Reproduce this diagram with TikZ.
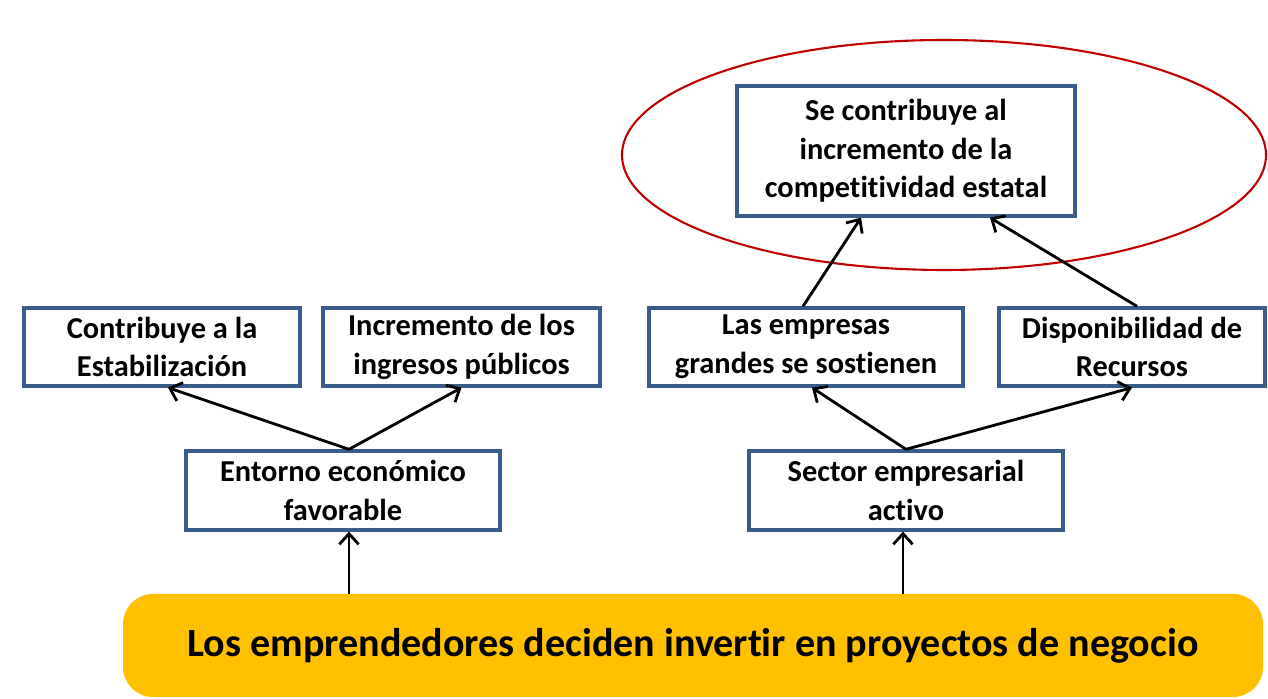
\documentclass[tikz,border=0pt]{standalone}
\usepackage{fontspec}
\setmainfont{Carlito}[Ligatures=NoCommon]
\usetikzlibrary{arrows.meta,positioning}
\definecolor{boxblue}{RGB}{56,93,138}
\definecolor{ovalred}{RGB}{192,0,0}
\definecolor{basegold}{RGB}{255,192,0}

\begin{document}
\begin{tikzpicture}[every node/.style={font=\bfseries\fontsize{17.3}{22}\selectfont,align=center,inner sep=0pt},
  box/.style={draw=boxblue,line width=1.9pt,fill=white},
  arr/.style={line width=1.6pt,-{Straight Barb[length=6pt,width=11pt]}}]
\useasboundingbox (0,0) rectangle (25.36,13.98);
\draw[ovalred,line width=1.2pt] (18.88,10.88) ellipse [x radius=6.44, y radius=2.3];
\node[box,minimum width=6.76cm,minimum height=2.6cm] (top) at (18.12,10.96) {Se contribuye al\\incremento de la\\competitividad estatal};
\node[box,minimum width=5.52cm,minimum height=1.56cm] (cont) at (3.24,7.04) {Contribuye a la\\Estabilización};
\node[box,minimum width=5.54cm,minimum height=1.56cm] (ingr) at (9.23,7.04) {Incremento de los\\ingresos públicos};
\node[box,minimum width=6.28cm,minimum height=1.56cm] (emp) at (16.12,7.04) {Las empresas\\grandes se sostienen};
\node[box,minimum width=5.32cm,minimum height=1.56cm] (disp) at (22.64,7.04) {Disponibilidad de\\Recursos};
\node[box,minimum width=6.28cm,minimum height=1.58cm] (ent) at (6.86,4.17) {Entorno económico\\favorable};
\node[box,minimum width=6.28cm,minimum height=1.58cm] (sec) at (18.12,4.17) {Sector empresarial\\activo};
\node[fill=basegold,rounded corners=0.6cm,minimum width=22.8cm,minimum height=2.06cm,font=\bfseries\fontsize{22.8}{26}\selectfont] (base) at (13.86,1.07) {Los emprendedores deciden invertir en proyectos de negocio};
\draw[arr] ([xshift=0.12cm]ent.north) -- ([xshift=0.12cm]cont.south);
\draw[arr] ([xshift=0.12cm]ent.north) -- (ingr.south);
\draw[arr] (sec.north) -- ([xshift=0.12cm]emp.south);
\draw[arr] (sec.north) -- (disp.south);
\draw[arr] ([xshift=-0.06cm]emp.north) -- ([xshift=-0.9cm]top.south);
\draw[arr] ([xshift=0.1cm]disp.north) -- ([xshift=1.68cm]top.south);
\draw[arr] ([xshift=0.12cm]ent.south |- base.north) -- ([xshift=0.12cm]ent.south);
\draw[arr] ([xshift=-0.06cm]sec.south |- base.north) -- ([xshift=-0.06cm]sec.south);
\end{tikzpicture}
\end{document}
